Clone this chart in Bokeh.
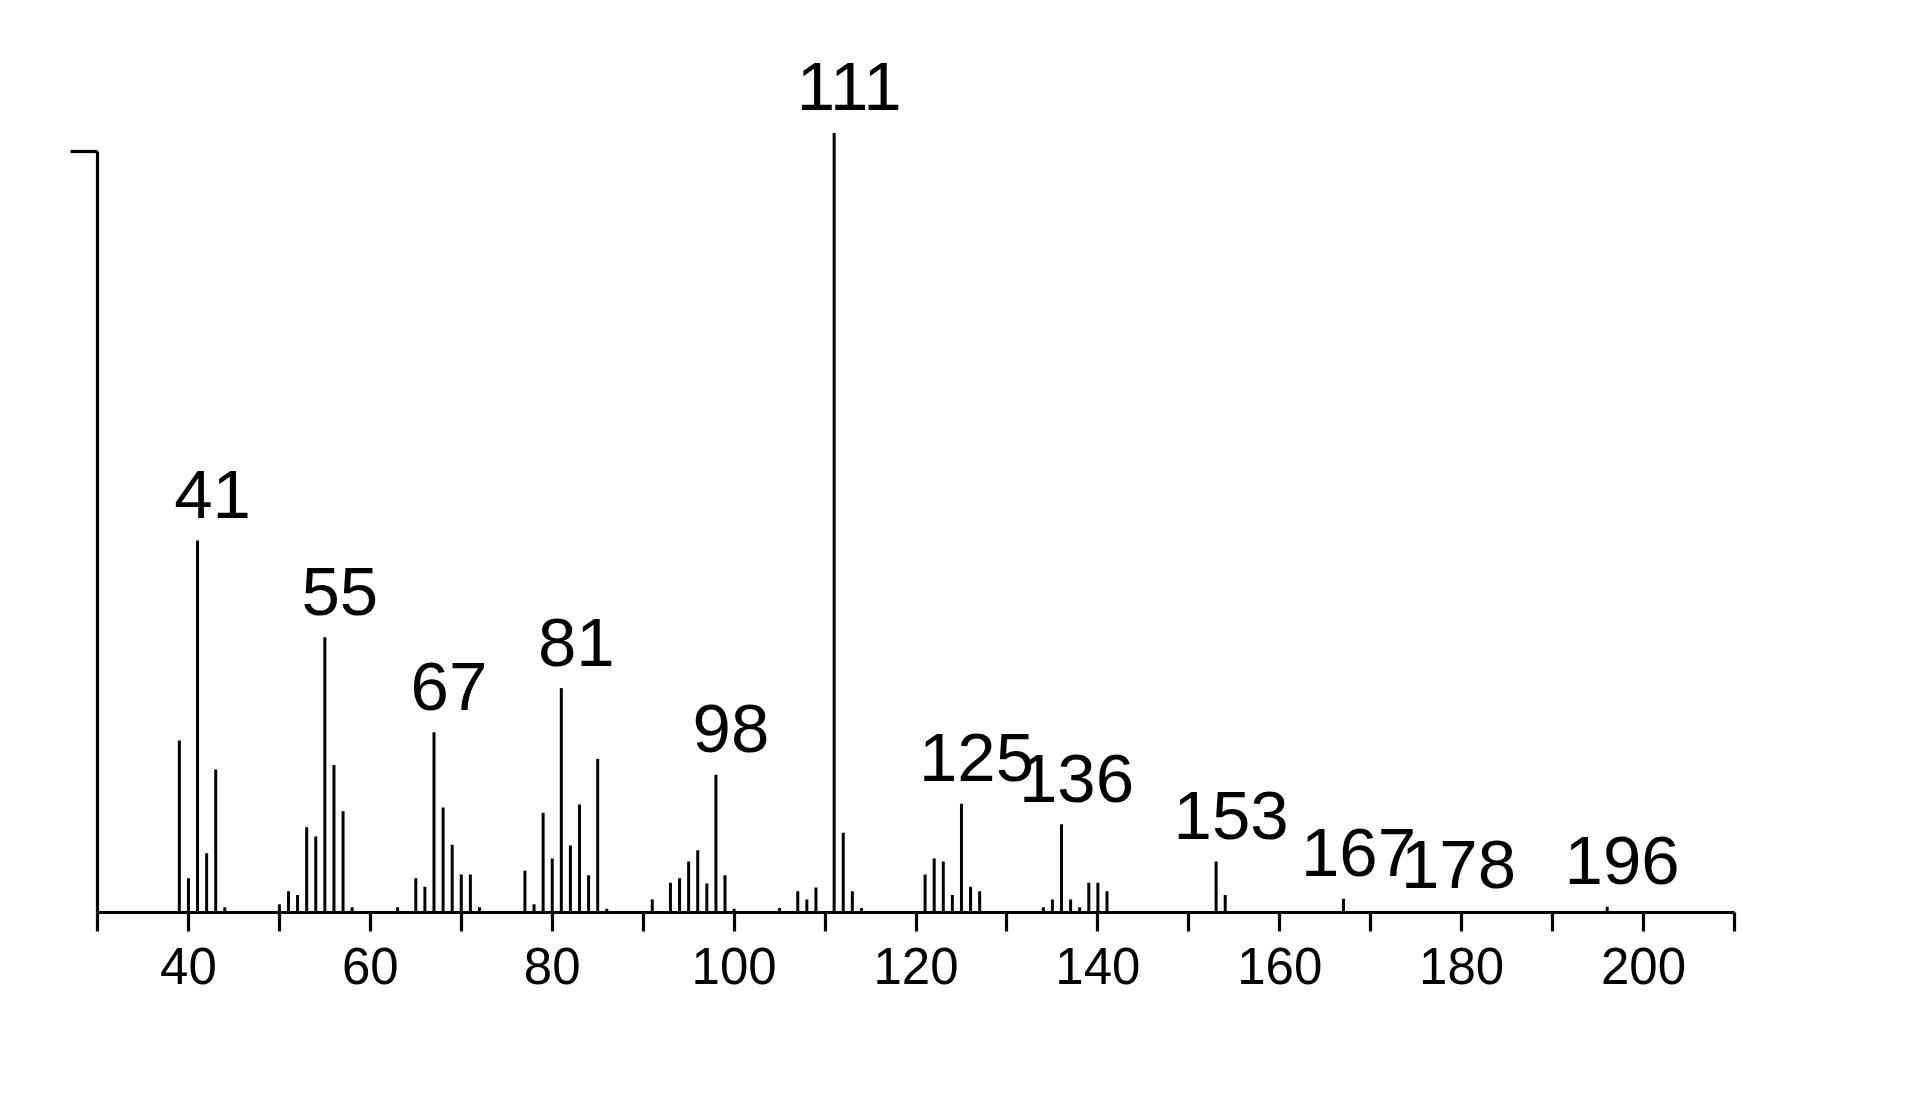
from bokeh.plotting import figure
from bokeh.models import Range1d, FixedTicker, ColumnDataSource
from bokeh.core.properties import value
from bokeh.embed import file_html
from bokeh.resources import INLINE

# ---- data (m/z and relative intensity, scale: top of y axis = 100) ----
mz = [39, 40, 41, 42, 43, 44,
      50, 51, 52, 53, 54, 55, 56, 57, 58,
      63, 65, 66, 67, 68, 69, 70, 71, 72,
      77, 78, 79, 80, 81, 82, 83, 84, 85, 86,
      91, 93, 94, 95, 96, 97, 98, 99, 100,
      105, 107, 108, 109, 111, 112, 113, 114,
      121, 122, 123, 124, 125, 126, 127,
      134, 135, 136, 137, 138, 139, 140, 141,
      153, 154, 167, 178, 196]
intensity = [22.6, 4.5, 48.9, 7.8, 18.8, 0.7,
             1.1, 2.8, 2.3, 11.2, 10.0, 36.2, 19.4, 13.3, 0.7,
             0.7, 4.5, 3.4, 23.7, 13.8, 8.9, 5.0, 5.0, 0.7,
             5.5, 1.1, 13.1, 7.1, 29.5, 8.8, 14.2, 4.9, 20.2, 0.5,
             1.7, 3.9, 4.5, 6.7, 8.2, 3.8, 18.1, 4.9, 0.5,
             0.6, 2.8, 1.7, 3.3, 102.5, 10.5, 2.8, 0.6,
             5.0, 7.1, 6.7, 2.3, 14.3, 3.4, 2.8,
             0.7, 1.7, 11.6, 1.7, 0.7, 3.9, 3.9, 2.8,
             6.7, 2.3, 1.8, 0.2, 0.75]
labeled_mz = [41, 55, 67, 81, 98, 111, 125, 136, 153, 167, 178, 196]
x_major_ticks = [40, 60, 80, 100, 120, 140, 160, 180, 200]
x_minor_ticks = [30, 50, 70, 90, 110, 130, 150, 170, 190, 210]
y_ticks = [100]

lookup = dict(zip(mz, intensity))
peaks = ColumnDataSource(dict(x=mz, y0=[0] * len(mz), y=intensity))
labels = ColumnDataSource(dict(x=labeled_mz,
                               y=[lookup[m] for m in labeled_mz],
                               t=[str(m) for m in labeled_mz]))

p = figure(frame_width=1637, frame_height=872,
           x_range=Range1d(30, 210), y_range=Range1d(0, 114.66),
           output_backend="svg", toolbar_location=None,
           min_border_left=97, min_border_top=40,
           min_border_bottom=120, min_border_right=40)
p.outline_line_color = None
p.xgrid.grid_line_color = None
p.ygrid.grid_line_color = None
p.background_fill_color = "white"
p.border_fill_color = "white"

p.segment(x0="x", y0="y0", x1="x", y1="y", source=peaks,
          line_color="black", line_width=3)

p.text(x="x", y="y", text="t", source=labels,
       text_align="center", text_baseline="alphabetic",
       x_offset=15, y_offset=-46,
       text_font=value("Liberation Sans"), text_font_size="69px",
       text_color="black")

xa = p.xaxis[0]
xa.ticker = FixedTicker(ticks=x_major_ticks, minor_ticks=x_minor_ticks)
xa.bounds = (30, 210)
xa.axis_line_color = "black"
xa.axis_line_width = 3.2
xa.major_tick_line_width = 3.2
xa.minor_tick_line_width = 3.2
xa.major_tick_line_color = "black"
xa.minor_tick_line_color = "black"
xa.major_tick_in = 0
xa.major_tick_out = 19
xa.minor_tick_in = 0
xa.minor_tick_out = 19
xa.major_label_standoff = 16
xa.major_label_text_font = "Liberation Sans"
xa.major_label_text_font_size = "51px"
xa.major_label_text_color = "black"

ya = p.yaxis[0]
ya.ticker = FixedTicker(ticks=y_ticks, minor_ticks=[])
ya.bounds = (0, 100)
ya.axis_line_color = "black"
ya.axis_line_width = 3.2
ya.major_tick_line_width = 3.2
ya.major_tick_line_color = "black"
ya.major_tick_in = 0
ya.major_tick_out = 27
ya.minor_tick_out = 0
ya.minor_tick_in = 0
ya.major_label_text_font_size = "10px"
ya.major_label_text_color = None

open("out.html", "w").write(file_html(p, INLINE))
